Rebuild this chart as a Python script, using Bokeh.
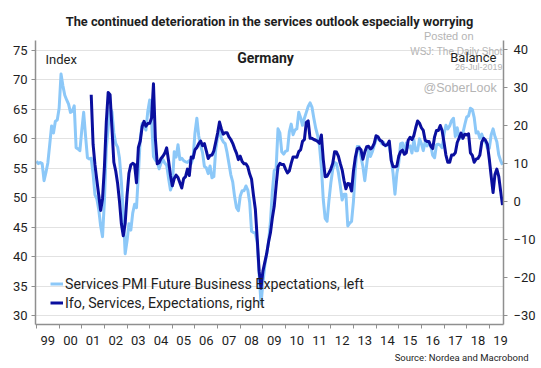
import pandas as pd
from bokeh.plotting import figure
from bokeh.models import (Range1d, LinearAxis, FixedTicker, Label, Legend,
                          LegendItem, ColumnDataSource, Title)
from bokeh.embed import file_html
from bokeh.resources import INLINE

# ---------------- data ----------------
# Services PMI Future Business Expectations (index, left axis), monthly from Jan 1999
pmi_start = "1999-01"
pmi_values = [
    56.2, 55.8, 56.0, 55.8, 52.9, 54.3, 55.9, 59.0, 62.2, 61.0,
    63.0, 63.2, 65.2, 71.0, 69.0, 67.4, 66.6, 65.9, 64.5, 64.7,
    65.6, 58.5, 58.3, 58.0, 61.5, 64.5, 60.5, 56.8, 56.6, 56.7,
    54.0, 50.5, 49.8, 48.0, 45.2, 43.4, 49.5, 58.4, 62.0, 65.3,
    64.6, 61.0, 59.2, 58.6, 56.7, 52.6, 47.4, 40.5, 42.7, 45.6,
    44.5, 47.4, 48.9, 48.3, 54.0, 60.0, 62.6, 62.2, 61.5, 64.7,
    66.6, 63.0, 57.0, 56.4, 56.1, 54.9, 55.9, 56.5, 55.9, 55.5,
    53.3, 51.3, 52.2, 57.8, 56.9, 59.0, 56.5, 56.7, 56.3, 56.1,
    56.0, 56.3, 55.8, 56.8, 61.0, 63.5, 60.5, 58.8, 57.7, 55.3,
    55.1, 54.1, 55.4, 53.4, 53.6, 58.2, 60.4, 61.4, 60.1, 59.5,
    59.2, 57.7, 55.8, 53.9, 52.7, 50.2, 48.3, 47.8, 50.3, 51.2,
    51.2, 52.0, 51.3, 49.2, 44.3, 44.1, 44.0, 42.4, 37.0, 32.0,
    35.5, 38.5, 40.5, 42.5, 46.0, 51.0, 54.6, 54.9, 61.7, 61.0,
    57.8, 57.4, 57.9, 58.0, 61.2, 62.5, 60.7, 61.5, 61.7, 64.5,
    63.6, 62.3, 63.5, 64.5, 65.5, 66.1, 65.4, 63.5, 61.8, 60.6,
    58.8, 55.2, 49.7, 46.5, 46.0, 49.5, 52.5, 54.8, 56.0, 55.8,
    54.3, 52.1, 49.6, 50.6, 50.6, 45.2, 45.7, 46.0, 49.4, 54.9,
    58.7, 58.7, 56.9, 55.3, 52.9, 55.6, 58.2, 57.0, 57.8, 58.9,
    59.9, 60.1, 59.8, 59.2, 59.4, 58.8, 59.1, 58.7, 56.7, 54.1,
    50.6, 54.1, 55.9, 59.2, 59.3, 57.5, 59.3, 58.6, 58.8, 57.6,
    59.9, 58.0, 58.0, 60.0, 59.2, 58.0, 59.5, 58.8, 59.3, 58.8,
    57.2, 56.8, 59.0, 59.1, 58.9, 58.5, 60.8, 62.3, 61.7, 62.2,
    63.1, 63.5, 60.4, 61.9, 60.2, 60.1, 61.0, 62.4, 63.7, 63.9,
    65.2, 65.0, 63.6, 61.0, 61.2, 60.1, 60.8, 59.9, 59.5, 58.4,
    58.4, 60.7, 61.7, 60.4, 59.5, 57.3, 56.3, 55.6,
]

# Ifo, Services, Expectations (balance, right axis), monthly from Jun 2001
ifo_start = "2001-06"
ifo_values = [
    28.2, 15.1, 9.7, 5.6, 1.7, -2.3, 0.8, 9.2, 21.0, 28.8, 28.2,
    19.3, 10.4, 8.1, 4.8, 0.0, -5.9, -9.0, -5.7, 1.7, 7.5,
    9.7, 10.1, 9.8, 5.0, 14.3, 16.0, 19.8, 21.2, 19.9, 20.6,
    20.7, 22.1, 31.1, 16.7, 10.0, 10.3, 11.4, 12.0, 12.8, 14.2,
    10.8, 7.0, 4.2, 6.1, 7.0, 6.4, 5.0, 3.6, 6.1, 6.6,
    8.6, 6.9, 11.8, 11.5, 13.7, 14.3, 15.3, 16.0, 14.8, 15.3,
    13.4, 11.4, 12.2, 12.3, 13.4, 15.7, 18.1, 21.0, 19.2, 17.8,
    18.2, 18.2, 17.1, 16.4, 15.4, 14.0, 12.8, 11.1, 12.0, 10.6,
    10.0, 10.0, 9.2, 7.3, 5.9, 1.7, -2.0, -9.8, -18.3, -22.8,
    -18.3, -16.0, -13.7, -10.6, -8.2, -4.3, -1.2, 4.2, 9.2, 10.1,
    9.8, 9.8, 8.6, 7.6, 8.1, 10.1, 11.8, 11.8, 11.7, 13.2,
    13.7, 15.9, 16.4, 20.9, 21.3, 16.7, 16.7, 16.4, 16.2, 15.9,
    15.4, 17.6, 11.1, 6.6, 6.7, 7.6, 8.6, 10.1, 13.2, 13.1,
    12.0, 10.1, 8.4, 5.6, 3.4, 4.8, 4.7, 2.8, 8.1, 11.7,
    14.0, 14.2, 13.7, 11.2, 13.1, 14.5, 14.6, 13.9, 14.3, 15.4,
    17.4, 17.1, 16.2, 16.0, 15.1, 14.8, 15.1, 16.0, 10.9, 9.2,
    9.2, 9.4, 12.0, 13.2, 13.6, 12.5, 12.9, 16.2, 17.0, 16.4,
    17.4, 19.5, 21.3, 20.7, 19.5, 18.8, 16.2, 15.9, 15.9, 14.6,
    14.0, 17.1, 18.8, 18.8, 20.1, 18.7, 15.6, 12.3, 10.4, 10.4,
    12.3, 12.3, 12.9, 15.6, 16.8, 18.1, 16.7, 17.8, 17.6, 17.9,
    12.9, 12.2, 10.4, 11.2, 11.4, 12.3, 15.7, 16.7, 16.2, 15.1,
    11.2, 6.7, 2.4, 7.2, 8.6, 6.7, 2.8, -0.9,
]

years = list(range(1999, 2020))
year_labels = ["99", "00", "01", "02", "03", "04", "05", "06", "07", "08", "09",
               "10", "11", "12", "13", "14", "15", "16", "17", "18", "19"]
left_ticks = [30, 35, 40, 45, 50, 55, 60, 65, 70, 75]
right_ticks = [-30, -20, -10, 0, 10, 20, 30, 40]

title_text = "The continued deterioration in the services outlook especially worrying"
pmi_label = "Services PMI Future Business Expectations, left"
ifo_label = "Ifo, Services, Expectations, right"
source_text = "Source: Nordea and Macrobond"


def decimal_years(start, n):
    d = pd.date_range(start, periods=n, freq="MS")
    return list(d.year + (d.month - 1) / 12.0)


PMI_COLOR = "#8CC8F8"
IFO_COLOR = "#0A0F9E"
AXIS_GRAY = "#8f8f8f"
TXT = "#1e1e1e"
FONT = "Roboto"
WM = "#b4b4b4"

p = figure(width=541, height=368, output_backend="svg", toolbar_location=None,
           title_location=None,
           x_range=Range1d(1998.956, 2019.627), y_range=Range1d(28.48, 76.70),
           min_border_left=35, min_border_right=38, min_border_top=40,
           min_border_bottom=44)
p.extra_y_ranges = {"right": Range1d(-32.37, 42.5)}
p.outline_line_color = None
p.background_fill_color = "white"
p.border_fill_color = "white"

p.xgrid.visible = False
p.ygrid.ticker = FixedTicker(ticks=left_ticks)
p.ygrid.grid_line_color = "#e2e2e2"
p.ygrid.grid_line_width = 1

# left axis
ya = p.yaxis[0]
ya.ticker = FixedTicker(ticks=left_ticks)
ya.axis_line_color = AXIS_GRAY
ya.axis_line_width = 1.5
ya.major_tick_line_color = AXIS_GRAY
ya.major_tick_out = 4
ya.major_tick_in = 0
ya.minor_tick_line_color = None
ya.major_label_text_font = FONT
ya.major_label_text_font_size = "13px"
ya.major_label_text_color = TXT
ya.major_label_standoff = 4

# right axis
ra = LinearAxis(y_range_name="right", ticker=FixedTicker(ticks=right_ticks))
ra.axis_line_color = AXIS_GRAY
ra.axis_line_width = 1.5
ra.major_tick_line_color = AXIS_GRAY
ra.major_tick_out = 4
ra.major_tick_in = 0
ra.minor_tick_line_color = None
ra.major_label_text_font = FONT
ra.major_label_text_font_size = "13px"
ra.major_label_text_color = TXT
ra.major_label_standoff = 6
p.add_layout(ra, "right")

# bottom axis: labels mid-year, small ticks at year starts
xa = p.xaxis[0]
xa.ticker = FixedTicker(ticks=[y + 0.5 for y in years], minor_ticks=years)
xa.major_label_overrides = {y + 0.5: lab for y, lab in zip(years, year_labels)}
xa.axis_line_color = AXIS_GRAY
xa.axis_line_width = 1.5
xa.major_tick_line_color = None
xa.major_tick_out = 0
xa.major_tick_in = 0
xa.minor_tick_line_color = AXIS_GRAY
xa.minor_tick_out = 4
xa.minor_tick_in = 0
xa.major_label_text_font = FONT
xa.major_label_text_font_size = "13px"
xa.major_label_text_color = TXT
xa.major_label_standoff = 7

# texts outside the plot frame
p.add_layout(Title(text="Posted on", align="right", offset=30, standoff=-2,
                   text_font="Liberation Sans", text_font_size="11px",
                   text_font_style="normal", text_color=WM), "above")
p.add_layout(Title(text=title_text, align="center", offset=-3, standoff=0,
                   text_font=FONT, text_font_size="12.8px",
                   text_font_style="bold", text_color=TXT), "above")
p.add_layout(Title(text=source_text, align="right", offset=-25, standoff=4,
                   text_font=FONT, text_font_size="9.5px",
                   text_font_style="normal", text_color=TXT), "below")

pmi_src = ColumnDataSource(dict(x=decimal_years(pmi_start, len(pmi_values)), y=pmi_values))
ifo_src = ColumnDataSource(dict(x=decimal_years(ifo_start, len(ifo_values)), y=ifo_values))

r_pmi = p.line("x", "y", source=pmi_src, line_color=PMI_COLOR, line_width=3,
               line_join="round")
r_ifo = p.line("x", "y", source=ifo_src, y_range_name="right", line_color=IFO_COLOR,
               line_width=3, line_join="round")

legend = Legend(items=[LegendItem(label=pmi_label, renderers=[r_pmi]),
                       LegendItem(label=ifo_label, renderers=[r_ifo])],
                location=(15, 12), padding=0, margin=0, spacing=0,
                glyph_width=13, glyph_height=19, label_height=19, label_standoff=2,
                background_fill_alpha=0, border_line_color=None,
                label_text_font=FONT, label_text_font_size="14.2px",
                label_text_color=TXT)
p.add_layout(legend)


def add_text(text, x, y, size, color=TXT, align="left", style="normal", font=FONT):
    p.add_layout(Label(x=x, y=y, x_units="screen", y_units="screen", text=text,
                       text_font=font, text_font_size=size, text_color=color,
                       text_align=align, text_baseline="middle",
                       text_font_style=style))


# watermark texts inside the frame
add_text("WSJ: The Daily Shot", 467, 273, "10px", WM, align="right", font="Liberation Sans")
add_text("26-Jul-2019", 467, 257.5, "9px", WM, align="right", font="Liberation Sans")
add_text("@SoberLook", 388, 236.5, "12.5px", WM, font="Liberation Sans")

# labels inside the frame
add_text("Germany", 230, 267, "14px", TXT, style="bold", align="center")
add_text("Index", 10, 265, "13px", TXT)
add_text("Balance", 461, 267, "13px", TXT, align="right")

open("out.html", "w").write(file_html(p, INLINE))
